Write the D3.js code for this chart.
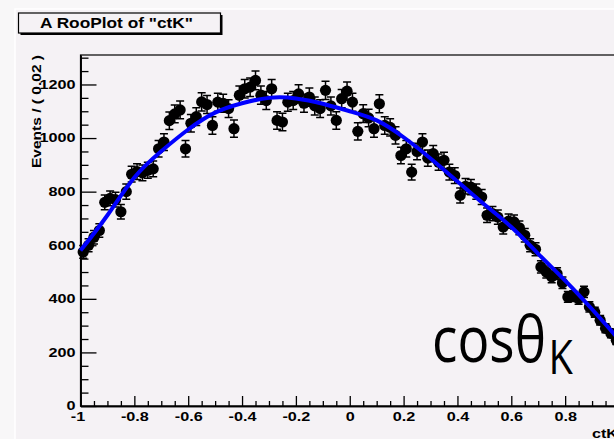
<!DOCTYPE html>
<html>
<head>
<meta charset="utf-8">
<script src="https://cdn.jsdelivr.net/npm/d3@7"></script>
<style>
  html, body { margin: 0; padding: 0; background: #f8f7f8; }
  svg { display: block; }
</style>
</head>
<body>
<svg id="chart" width="614" height="439"></svg>
<script>
// ---------- data ----------
const binCenters = d3.range(100).map(i => +(-0.99 + 0.02 * i).toFixed(2));
const events = [
  575, 600, 630, 655, 760, 775, 770, 725, 800, 865,
  875, 870, 880, 885, 960, 985, 1065, 1090, 1105, 960,
  1055, 1080, 1135, 1125, 1047, 1134, 1130, 1110, 1035, 1160,
  1184, 1190, 1215, 1160, 1140, 1184, 1066, 1060, 1134, 1140,
  1165, 1130, 1153, 1120, 1110, 1178, 1120, 1066, 1147, 1175,
  1134, 1025, 1091, 1075, 1035, 1128, 1047, 1040, 1010, 935,
  960, 873, 950, 985, 925, 942, 910, 917, 873, 860,
  786, 820, 817, 800, 780, 712, 718, 705, 668, 690,
  687, 665, 637, 600, 585, 519, 500, 482, 494, 460,
  407, 410, 400, 426, 370, 350, 320, 290, 271, 245
];
const fitX = [-1, -0.9, -0.8, -0.7, -0.6, -0.5, -0.4, -0.3, -0.2, -0.1, 0, 0.1, 0.2, 0.3, 0.4, 0.5, 0.6, 0.7, 0.8, 0.9, 1.0];
const fitY = [580, 712, 853, 951, 1032, 1095, 1130, 1150, 1148, 1128, 1100, 1066, 1003, 924, 838, 752, 668, 568, 468, 361, 248];
const yTicks = [0, 200, 400, 600, 800, 1000, 1200];
const xTicks = [-1, -0.8, -0.6, -0.4, -0.2, 0, 0.2, 0.4, 0.6, 0.8];
const xTickLabels = ["-1", "-0.8", "-0.6", "-0.4", "-0.2", "0", "0.2", "0.4", "0.6", "0.8"];

// ---------- layout ----------
const svg = d3.select("#chart");
const bg = "#f5f2f5";
const X0 = 80.5, X1 = 619, Y0 = 406, Y1 = 55;
const x = d3.scaleLinear().domain([-1, 1]).range([X0, X1]);
const y = d3.scaleLinear().domain([0, 1310]).range([Y0, Y1]);
const rootFont = "'Liberation Sans', Arial, Helvetica, sans-serif";

// canvas background
svg.append("rect").attr("x", 0).attr("y", 0).attr("width", 614).attr("height", 439).attr("fill", "#f8f7f8");
svg.append("rect").attr("x", 15).attr("y", 9).attr("width", 620).attr("height", 440).attr("fill", bg)
  .attr("stroke", "#ffffff").attr("stroke-width", 1.5);

// ---------- frame ----------
svg.append("rect").attr("x", X0).attr("y", Y1).attr("width", X1 - X0).attr("height", Y0 - Y1)
  .attr("fill", "none").attr("stroke", "#000").attr("stroke-width", 1.2);

// ---------- axes ----------
const yMinor = d3.range(0, 1310, 50).filter(v => v % 200 !== 0);
const yAxisMinor = d3.axisLeft(y).tickValues(yMinor).tickSizeInner(-8).tickSizeOuter(0).tickFormat("");
const yAxis = d3.axisLeft(y).tickValues(yTicks).tickSizeInner(-16).tickSizeOuter(0).tickPadding(5).tickFormat(d3.format("d"));
const gYm = svg.append("g").attr("transform", `translate(${X0},0)`).call(yAxisMinor);
const gY = svg.append("g").attr("transform", `translate(${X0},0)`).call(yAxis);

const xMinor = d3.range(-1, 1.001, 0.05).map(v => +v.toFixed(2)).filter(v => Math.abs(Math.round(v * 5) - v * 5) > 1e-6);
const xAxisMinor = d3.axisBottom(x).tickValues(xMinor).tickSizeInner(-5).tickSizeOuter(0).tickFormat("");
const xAxis = d3.axisBottom(x).tickValues(xTicks).tickSizeInner(-10).tickSizeOuter(0).tickPadding(6)
  .tickFormat((d, i) => xTickLabels[i]);
const gXm = svg.append("g").attr("transform", `translate(0,${Y0})`).call(xAxisMinor);
const gX = svg.append("g").attr("transform", `translate(0,${Y0})`).call(xAxis);

[gYm, gY, gXm, gX].forEach(g => {
  g.select(".domain").attr("stroke", "#000").attr("stroke-width", 1.6);
  g.selectAll(".tick line").attr("stroke", "#000").attr("stroke-width", 1.3);
});
[gY, gX].forEach(g => g.selectAll("text").attr("font-family", rootFont).attr("font-weight", "bold")
  .attr("font-size", 12).attr("fill", "#000"));
gY.selectAll("text").each(function () {
  const w = this.getComputedTextLength();
  d3.select(this).attr("textLength", w * 1.35).attr("lengthAdjust", "spacingAndGlyphs");
});
gX.selectAll("text").each(function (d) {
  const t = d3.select(this);
  const w = this.getComputedTextLength();
  t.attr("textLength", w * 1.35).attr("lengthAdjust", "spacingAndGlyphs");
  if (d === -1) t.attr("x", -3);
});

// axis titles
svg.append("text").attr("transform", "translate(41,111.5) rotate(-90)")
  .attr("text-anchor", "middle").attr("font-family", rootFont).attr("font-weight", "bold")
  .attr("font-size", 12.5).attr("textLength", 113).attr("lengthAdjust", "spacingAndGlyphs")
  .text("Events / ( 0.02 )");
svg.append("text").attr("x", 618).attr("y", 437.5).attr("text-anchor", "end")
  .attr("font-family", rootFont).attr("font-weight", "bold").attr("font-size", 12)
  .attr("textLength", 26).attr("lengthAdjust", "spacingAndGlyphs").text("ctK");

// ---------- title box ----------
svg.append("rect").attr("x", 20.5).attr("y", 15).attr("width", 202).attr("height", 20).attr("fill", "#000");
svg.append("rect").attr("x", 18.5).attr("y", 13).attr("width", 202).attr("height", 20)
  .attr("fill", bg).attr("stroke", "#000").attr("stroke-width", 1.2);
svg.append("text").attr("x", 116.5).attr("y", 27.5).attr("text-anchor", "middle")
  .attr("font-family", rootFont).attr("font-weight", "bold").attr("font-size", 15.5)
  .attr("textLength", 153).attr("lengthAdjust", "spacingAndGlyphs")
  .text('A RooPlot of "ctK"');

// ---------- data points ----------
const pts = binCenters.map((c, i) => ({ c, v: events[i], e: Math.sqrt(events[i]) }));
const gData = svg.append("g");
const capW = 4;
gData.selectAll("path.err").data(pts).join("path").attr("class", "err")
  .attr("d", d => {
    const cx = x(d.c), yt = y(d.v + d.e), yb = y(d.v - d.e);
    return `M${cx},${yt}V${yb}M${cx - capW},${yt}H${cx + capW}M${cx - capW},${yb}H${cx + capW}`;
  })
  .attr("stroke", "#000").attr("stroke-width", 1.5).attr("fill", "none");
gData.selectAll("circle").data(pts).join("circle")
  .attr("cx", d => x(d.c)).attr("cy", d => y(d.v)).attr("r", 5.6).attr("fill", "#000");

// ---------- fit curve ----------
const fit = fitX.map((v, i) => [v, fitY[i]]);
svg.append("path").datum(fit)
  .attr("d", d3.line().x(d => x(d[0])).y(d => y(d[1])).curve(d3.curveNatural))
  .attr("fill", "none").attr("stroke", "#0000ff").attr("stroke-width", 4);

// ---------- annotation ----------
const annFont = "'Open Sans', 'Noto Sans', sans-serif";
const annG = svg.append("g");
const ann = annG.append("text").attr("x", 0).attr("y", 0)
  .attr("font-family", annFont).attr("font-size", 64).attr("fill", "#000");
const t1 = ann.append("tspan").text("cosθ");
ann.append("tspan").attr("font-size", 48).attr("dx", 3).attr("dy", 12).text("K");
const w1 = t1.node().getComputedTextLength();
const sx = 114 / w1;
annG.attr("transform", `translate(432,362) scale(${sx},1)`);
</script>
</body>
</html>
